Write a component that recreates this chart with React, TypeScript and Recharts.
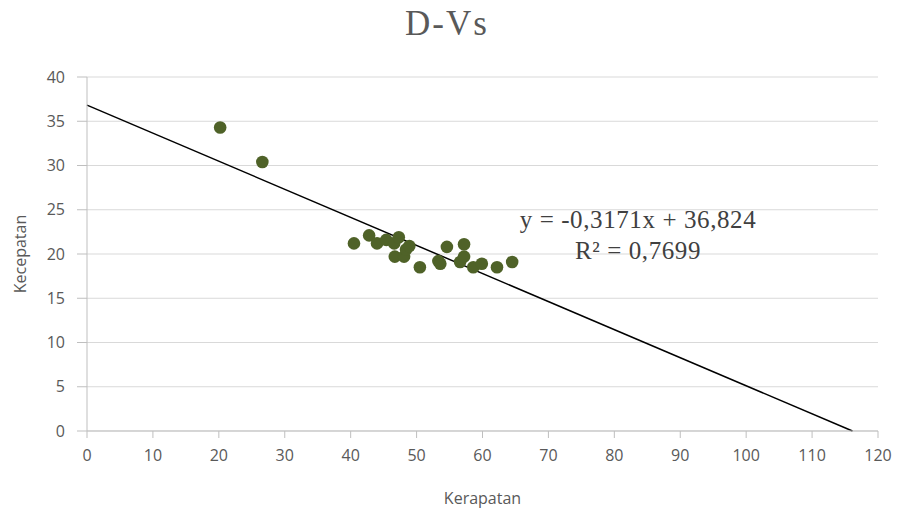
import React from 'react';
import {
  ScatterChart,
  Scatter,
  XAxis,
  YAxis,
  CartesianGrid,
  ReferenceLine,
  Label,
} from 'recharts';

const kerapatan = [
  20.2, 26.6, 40.5, 42.8, 44.0, 45.4, 46.6, 47.3, 46.7, 48.1, 48.4, 48.9,
  50.5, 53.3, 53.6, 54.6, 56.6, 57.2, 57.2, 58.6, 59.9, 62.2, 64.5,
];
const kecepatan = [
  34.3, 30.4, 21.2, 22.1, 21.2, 21.6, 21.2, 21.9, 19.7, 19.7, 20.5, 20.9,
  18.5, 19.2, 18.9, 20.8, 19.1, 21.1, 19.7, 18.5, 18.9, 18.5, 19.1,
];
const xTicks = [0, 10, 20, 30, 40, 50, 60, 70, 80, 90, 100, 110, 120];
const yTicks = [0, 5, 10, 15, 20, 25, 30, 35, 40];

const slope = -0.3171;
const intercept = 36.824;

const points = kerapatan.map((x, i) => ({ x, y: kecepatan[i] }));

const axisFont = { fontSize: 16, fill: '#595959', fontFamily: '"Open Sans", sans-serif' };

const Dot = (props: any) => (
  <circle cx={props.cx} cy={props.cy} r={6.3} fill="#4f6228" />
);

export default function App() {
  return (
    <div
      style={{
        position: 'absolute',
        left: 0,
        top: 0,
        width: 902,
        height: 518,
        background: '#fff',
      }}
    >
      <div
        style={{
          position: 'absolute',
          top: 4,
          left: 447,
          transform: 'translateX(-50%)',
          whiteSpace: 'nowrap',
          fontFamily: '"Liberation Serif", serif',
          fontSize: 35,
          letterSpacing: 2,
          lineHeight: 1.15,
          color: '#595959',
        }}
      >
        D-Vs
      </div>
      <ScatterChart
        width={902}
        height={518}
        margin={{ top: 77, right: 24, bottom: 12, left: 27 }}
      >
        <CartesianGrid horizontal vertical={false} stroke="#d9d9d9" />
        <XAxis
          type="number"
          dataKey="x"
          domain={[0, 120]}
          ticks={xTicks}
          interval={0}
          height={75}
          tickSize={7}
          tickMargin={12}
          stroke="#bfbfbf"
          tick={axisFont}
        >
          <Label
            value="Kerapatan"
            position="insideBottom"
            offset={2}
            style={{ ...axisFont, fill: '#595959' }}
          />
        </XAxis>
        <YAxis
          type="number"
          dataKey="y"
          domain={[0, 40]}
          ticks={yTicks}
          interval={0}
          width={60}
          tickSize={10}
          tickMargin={12}
          stroke="#bfbfbf"
          tick={axisFont}
        >
          <Label
            value="Kecepatan"
            angle={-90}
            position="insideLeft"
            offset={-7}
            style={{ ...axisFont, fill: '#595959', textAnchor: 'middle' }}
          />
        </YAxis>
        <ReferenceLine
          segment={[
            { x: 0, y: intercept },
            { x: -intercept / slope, y: 0 },
          ]}
          stroke="#000"
          strokeWidth={1.5}
          ifOverflow="visible"
        />
        <Scatter data={points} shape={<Dot />} isAnimationActive={false} />
      </ScatterChart>
      <div
        style={{
          position: 'absolute',
          left: 638,
          top: 204,
          transform: 'translateX(-50%)',
          whiteSpace: 'nowrap',
          fontFamily: '"Liberation Serif", serif',
          fontSize: 25,
          letterSpacing: 0.6,
          color: '#404040',
          lineHeight: '31px',
          textAlign: 'center',
        }}
      >
        <div>y = -0,3171x + 36,824</div>
        <div>R² = 0,7699</div>
      </div>
    </div>
  );
}
